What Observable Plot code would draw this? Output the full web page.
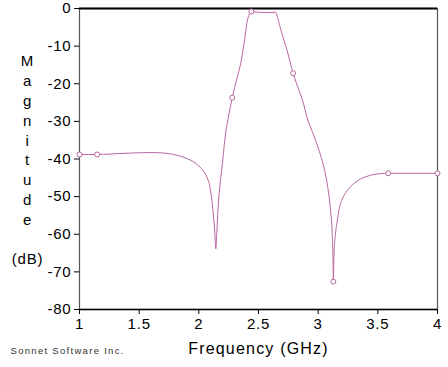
<!DOCTYPE html>
<html>
<head>
<meta charset="utf-8">
<script src="https://cdn.jsdelivr.net/npm/d3@7"></script>
<script src="https://cdn.jsdelivr.net/npm/@observablehq/plot@0.6"></script>
<style>
  html, body { margin: 0; padding: 0; background: #fff; }
  #chart svg { display: block; }
</style>
</head>
<body>
<div id="chart"></div>
<script>
const freq = [1.0, 1.148, 1.3, 1.45, 1.6, 1.7, 1.79, 1.87, 1.93, 1.98, 2.02, 2.06, 2.09, 2.11, 2.125, 2.135, 2.142, 2.15, 2.158, 2.168, 2.18, 2.195, 2.225, 2.25, 2.28, 2.32, 2.35, 2.38, 2.405, 2.44, 2.5, 2.57, 2.643, 2.665, 2.685, 2.74, 2.79, 2.84, 2.87, 2.91, 2.964, 3.01, 3.048, 3.08, 3.104, 3.118, 3.124, 3.127, 3.132, 3.145, 3.16, 3.173, 3.2, 3.244, 3.3, 3.355, 3.41, 3.467, 3.52, 3.587, 3.8, 4.0];
const magnitude = [-38.8, -38.8, -38.6, -38.4, -38.3, -38.4, -38.8, -39.5, -40.3, -41.3, -42.5, -44.3, -47, -51, -56, -60, -63.9, -60, -55, -50, -46, -42, -33, -28.5, -23.7, -18.5, -14.7, -9, -3.5, -0.8, -1.0, -1.1, -1.0, -3, -5.4, -11.2, -17.2, -21.8, -24.5, -29.3, -33.8, -38, -42.2, -47.5, -53.7, -60, -66, -72.6, -66, -59.9, -56.5, -53.7, -50.8, -48.4, -46.5, -45.3, -44.6, -44.1, -43.9, -43.8, -43.8, -43.8];
const markerFreq = [1.0, 1.148, 2.28, 2.44, 2.79, 3.127, 3.587, 4.0];
const markerMag = [-38.8, -38.8, -23.7, -0.8, -17.2, -72.6, -43.8, -43.8];
const xTicks = [1, 1.5, 2, 2.5, 3, 3.5, 4];
const yTicks = [0, -10, -20, -30, -40, -50, -60, -70, -80];
const xTitle = "Frequency (GHz)";
const yTitle = "M\na\ng\nn\ni\nt\nu\nd\ne\n\n(dB)";
const credit = "Sonnet Software Inc.";

const curve = freq.map((f, i) => ({f, m: magnitude[i]}));
const markers = markerFreq.map((f, i) => ({f, m: markerMag[i]}));
const lineColor = "#b8679f";

const chart = Plot.plot({
  width: 448,
  height: 367,
  marginLeft: 79,
  marginRight: 11,
  marginTop: 8,
  marginBottom: 58,
  style: {fontFamily: "'Liberation Sans', Arial, sans-serif", fontSize: "15px", color: "#000", background: "#fff"},
  x: {domain: [1, 4]},
  y: {domain: [-80, 0]},
  marks: [
    Plot.frame({stroke: "#555", strokeWidth: 1.2}),
    Plot.ruleY([0], {stroke: "#000", strokeWidth: 2}),
    Plot.ruleY([-80], {stroke: "#000", strokeWidth: 1.5}),
    Plot.axisX({ticks: xTicks, tickSize: 5, tickPadding: 4, label: null, fontSize: 15, tickFormat: d => String(d)}),
    Plot.axisY({ticks: yTicks, tickSize: 5, tickPadding: 3, label: null, fontSize: 15, tickFormat: d => String(d)}),
    Plot.line(curve, {x: "f", y: "m", stroke: lineColor, strokeWidth: 1, curve: "monotone-x"}),
    Plot.dot(markers, {x: "f", y: "m", r: 2.5, stroke: lineColor, fill: "#fff", strokeWidth: 1}),
    Plot.text([yTitle], {frameAnchor: "left", dx: -52, fontSize: 15, lineHeight: 1.32, textAnchor: "middle"}),
    Plot.text([xTitle], {frameAnchor: "bottom", dy: 44, fontSize: 16}),
    Plot.text([credit], {frameAnchor: "bottom-left", dx: -69, dy: 44, textAnchor: "start", fontSize: 9.5, fill: "#333"})
  ]
});
const svg = d3.select(chart);
svg.selectAll("text").each(function() {
  const t = d3.select(this);
  const s = t.text();
  if (s === xTitle) t.style("letter-spacing", "1.2px");
  else if (s === credit) t.style("letter-spacing", "1.3px");
  else t.style("letter-spacing", "0.8px");
});
document.getElementById("chart").appendChild(chart);
</script>
</body>
</html>
